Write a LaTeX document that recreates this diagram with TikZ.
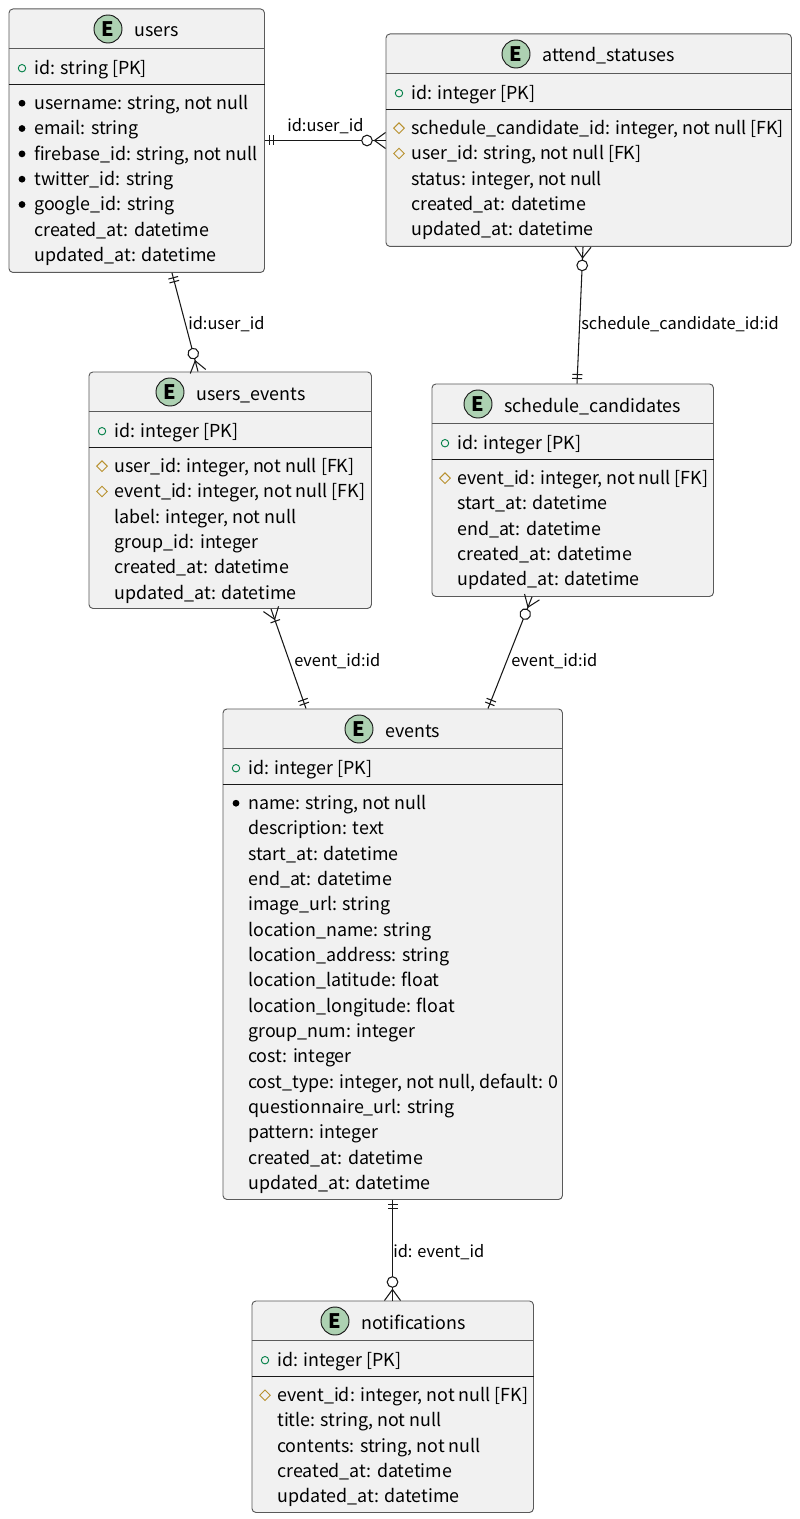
\documentclass[tikz,border=0pt]{standalone}
\usepackage{fontspec}
\setmainfont{Noto Sans CJK JP}
\usetikzlibrary{positioning,calc}
\definecolor{boxfill}{HTML}{F1F1F1}
\definecolor{boxline}{HTML}{5A5A5A}
\definecolor{spotfill}{HTML}{ADD1B2}
\definecolor{pkgreen}{HTML}{038048}
\definecolor{fkgold}{HTML}{B8912F}
\definecolor{inkdark}{HTML}{181818}
\tikzset{
    entitybox/.style={draw=boxline,line width=0.7pt,fill=boxfill,rounded corners=3pt,anchor=north west,inner sep=0pt},
    rowtext/.style={anchor=base west,inner sep=0pt,font=\fontsize{13.4}{16}\selectfont,text=black},
    titletext/.style={anchor=base west,inner sep=0pt,font=\fontsize{13.4}{16}\selectfont,text=black},
    reltext/.style={anchor=base west,inner sep=0pt,font=\fontsize{12.3}{15}\selectfont,text=black},
    relline/.style={draw=inkdark,line width=0.8pt},
    onetick/.pic={\draw[relline] (5,-5) -- (5,5) (9,-5) -- (9,5);},
    zerocrow/.pic={
        \draw[relline] (0,-8) -- (11,0) -- (0,8);
        \draw[relline,fill=white] (18.5,0) circle (5.3);
    },
    onecrow/.pic={
        \draw[relline] (0,-8) -- (11,0) -- (0,8);
        \draw[relline] (13,-5) -- (13,5);
    },
    pkmark/.pic={\draw[pkgreen,line width=0.7pt] (0,0) circle (3.7);},
    fkmark/.pic={\draw[fkgold,line width=0.7pt] (-5.3,0) -- (0,-5.3) -- (5.3,0) -- (0,5.3) -- cycle;},
    bulmark/.pic={\fill[black] (0,0) circle (3.4);},
    nomark/.pic={},
}
% #1 name, #2 x, #3 y, #4 w, #5 h, #6 x of spot, #7 title
\newcommand{\entity}[7]{
    \node[entitybox,minimum width=#4*0.75pt+0.375pt,minimum height=#5*0.75pt+0.375pt] (#1) at (#2-0.5,#3-0.5) {};
    \draw[boxline,line width=0.6pt] ($(#1.north west)+(0,40)$) -- ($(#1.north east)+(0,40)$);
    \draw[inkdark,line width=0.8pt] ($(#1.north west)+(0,76)$) -- ($(#1.north east)+(0,76)$);
    \draw[inkdark,line width=0.7pt,fill=spotfill] (#6,#3+20) circle (14);
    \node[inner sep=0pt,font=\fontsize{15}{16}\bfseries\selectfont] (#1-spot) at (#6,#3+20) {E};
    \node[titletext] (#1-title) at (#6+26,#3+28) {#7};
}
% #1 entity, #2 x, #3 y, #4 list of mark/text, the first one is the key row
\newcommand{\entityrows}[4]{
    \foreach \kind/\txt [count=\i from 0] in {#4} {
        \pgfmathsetmacro{\rowy}{\i==0 ? #3+65.5 : #3+100.5+(\i-1)*25.33}
        \pic at (#2+13,\rowy-6.3) {\kind mark};
        \node[rowtext] (#1-row\i) at (#2+25,\rowy) {\txt};
    }
}
\begin{document}
\begin{tikzpicture}[x=0.75pt,y=-0.75pt]
    \useasboundingbox (0,0) rectangle (799,1519);

    \entity{users}{9}{9}{255}{263}{108}{users}
    \entityrows{users}{9}{9}{pk/{id: string [PK]},
        bul/{username: string, not null},bul/{email: string},bul/{firebase\_id: string, not null},
        bul/{twitter\_id: string},bul/{google\_id: string},no/{created\_at: datetime},no/{updated\_at: datetime}}

    \entity{attend_statuses}{386}{34}{405}{212}{516}{attend\_statuses}
    \entityrows{attend_statuses}{386}{34}{pk/{id: integer [PK]},
        fk/{schedule\_candidate\_id: integer, not null [FK]},fk/{user\_id: string, not null [FK]},
        no/{status: integer, not null},no/{created\_at: datetime},no/{updated\_at: datetime}}

    \entity{users_events}{89}{372}{282}{236}{170}{users\_events}
    \entityrows{users_events}{89}{372}{pk/{id: integer [PK]},
        fk/{user\_id: integer, not null [FK]},fk/{event\_id: integer, not null [FK]},
        no/{label: integer, not null},no/{group\_id: integer},no/{created\_at: datetime},no/{updated\_at: datetime}}

    \entity{schedule_candidates}{432}{384}{281}{212}{478}{schedule\_candidates}
    \entityrows{schedule_candidates}{432}{384}{pk/{id: integer [PK]},
        fk/{event\_id: integer, not null [FK]},no/{start\_at: datetime},no/{end\_at: datetime},
        no/{created\_at: datetime},no/{updated\_at: datetime}}

    \entity{events}{223}{709}{339}{490}{359}{events}
    \entityrows{events}{223}{709}{pk/{id: integer [PK]},
        bul/{name: string, not null},no/{description: text},no/{start\_at: datetime},no/{end\_at: datetime},
        no/{image\_url: string},no/{location\_name: string},no/{location\_address: string},
        no/{location\_latitude: float},no/{location\_longitude: float},no/{group\_num: integer},
        no/{cost: integer},no/{cost\_type: integer, not null, default: 0},no/{questionnaire\_url: string},
        no/{pattern: integer},no/{created\_at: datetime},no/{updated\_at: datetime}}

    \entity{notifications}{252}{1301}{281}{211}{335}{notifications}
    \entityrows{notifications}{252}{1301}{pk/{id: integer [PK]},
        fk/{event\_id: integer, not null [FK]},no/{title: string, not null},no/{contents: string, not null},
        no/{created\_at: datetime},no/{updated\_at: datetime}}

    % relations
    \draw[relline] ($(users.north east)+(0,132)$) -- pic[pos=0,sloped,allow upside down] {onetick}
        pic[pos=1,sloped,allow upside down,xscale=-1] {zerocrow} ($(attend_statuses.north west)+(0,107)$);
    \draw[relline] ($(users.south west)+(163.5,0)$) -- pic[pos=0,sloped,allow upside down] {onetick}
        pic[pos=1,sloped,allow upside down,xscale=-1] {zerocrow} ($(users_events.north west)+(109.5,0)$);
    \draw[relline] ($(attend_statuses.south west)+(197.5,0)$) -- pic[pos=0,sloped,allow upside down] {zerocrow}
        pic[pos=1,sloped,allow upside down,xscale=-1] {onetick} ($(schedule_candidates.north west)+(145.5,0)$);
    \draw[relline] ($(users_events.south west)+(182.5,0)$) -- pic[pos=0,sloped,allow upside down] {onecrow}
        pic[pos=1,sloped,allow upside down,xscale=-1] {onetick} ($(events.north west)+(83.5,0)$);
    \draw[relline] ($(schedule_candidates.south west)+(100.5,0)$) -- pic[pos=0,sloped,allow upside down] {zerocrow}
        pic[pos=1,sloped,allow upside down,xscale=-1] {onetick} ($(events.north west)+(265.5,0)$);
    \draw[relline] ($(events.south west)+(170,0)$) -- pic[pos=0,sloped,allow upside down] {onetick}
        pic[pos=1,sloped,allow upside down,xscale=-1] {zerocrow} ($(notifications.north west)+(141,0)$);

    \node[reltext] (lbl-a) at (287,131.8) {id:user\_id};
    \node[reltext] (lbl-b) at (188,329.8) {id:user\_id};
    \node[reltext] (lbl-c) at (581,329.8) {schedule\_candidate\_id:id};
    \node[reltext] (lbl-d) at (294,666.8) {event\_id:id};
    \node[reltext] (lbl-e) at (511,666.8) {event\_id:id};
    \node[reltext] (lbl-f) at (393,1257.8) {id: event\_id};
\end{tikzpicture}
\end{document}
